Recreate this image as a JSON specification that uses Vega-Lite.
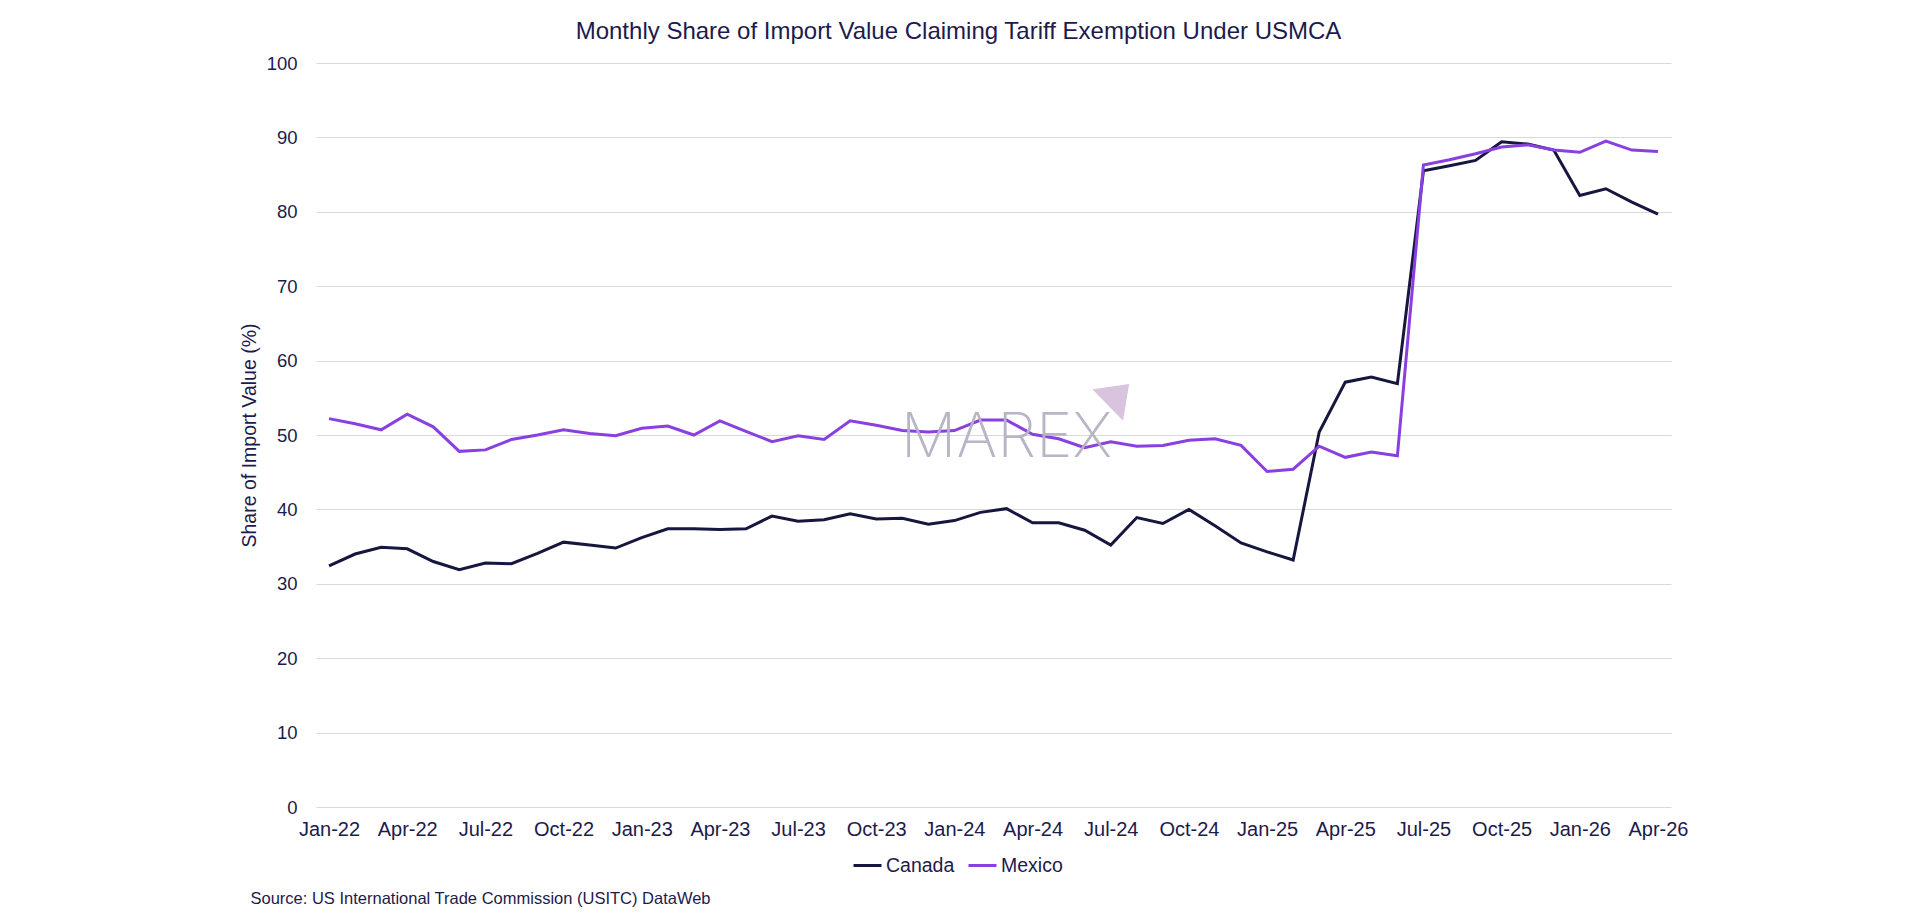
{
  "$schema": "https://vega.github.io/schema/vega-lite/v6.json",
  "autosize": {"type": "none"},
  "padding": {"left": 316, "top": 63, "right": 247, "bottom": 117},
  "width": 1355,
  "height": 744,
  "background": "white",
  "config": {
    "font": "Liberation Sans",
    "view": {"stroke": null},
    "text": {"font": "Liberation Sans"}
  },
  "title": {
    "text": "Monthly Share of Import Value Claiming Tariff Exemption Under USMCA",
    "anchor": "middle",
    "frame": "group",
    "dx": -35,
    "offset": -8.6,
    "baseline": "alphabetic",
    "fontSize": 24,
    "fontWeight": "normal",
    "color": "#1d1b4c"
  },
  "datasets": {
    "share": [
      {"m": "Jan-22", "country": "Canada", "v": 32.4},
      {"m": "Feb-22", "country": "Canada", "v": 34.0},
      {"m": "Mar-22", "country": "Canada", "v": 34.9},
      {"m": "Apr-22", "country": "Canada", "v": 34.7},
      {"m": "May-22", "country": "Canada", "v": 33.0},
      {"m": "Jun-22", "country": "Canada", "v": 31.9},
      {"m": "Jul-22", "country": "Canada", "v": 32.8},
      {"m": "Aug-22", "country": "Canada", "v": 32.7},
      {"m": "Sep-22", "country": "Canada", "v": 34.1},
      {"m": "Oct-22", "country": "Canada", "v": 35.6},
      {"m": "Nov-22", "country": "Canada", "v": 35.2},
      {"m": "Dec-22", "country": "Canada", "v": 34.8},
      {"m": "Jan-23", "country": "Canada", "v": 36.2},
      {"m": "Feb-23", "country": "Canada", "v": 37.4},
      {"m": "Mar-23", "country": "Canada", "v": 37.4},
      {"m": "Apr-23", "country": "Canada", "v": 37.3},
      {"m": "May-23", "country": "Canada", "v": 37.4},
      {"m": "Jun-23", "country": "Canada", "v": 39.1},
      {"m": "Jul-23", "country": "Canada", "v": 38.4},
      {"m": "Aug-23", "country": "Canada", "v": 38.6},
      {"m": "Sep-23", "country": "Canada", "v": 39.4},
      {"m": "Oct-23", "country": "Canada", "v": 38.7},
      {"m": "Nov-23", "country": "Canada", "v": 38.8},
      {"m": "Dec-23", "country": "Canada", "v": 38.0},
      {"m": "Jan-24", "country": "Canada", "v": 38.5},
      {"m": "Feb-24", "country": "Canada", "v": 39.6},
      {"m": "Mar-24", "country": "Canada", "v": 40.1},
      {"m": "Apr-24", "country": "Canada", "v": 38.2},
      {"m": "May-24", "country": "Canada", "v": 38.2},
      {"m": "Jun-24", "country": "Canada", "v": 37.2},
      {"m": "Jul-24", "country": "Canada", "v": 35.2},
      {"m": "Aug-24", "country": "Canada", "v": 38.9},
      {"m": "Sep-24", "country": "Canada", "v": 38.1},
      {"m": "Oct-24", "country": "Canada", "v": 40.0},
      {"m": "Nov-24", "country": "Canada", "v": 37.8},
      {"m": "Dec-24", "country": "Canada", "v": 35.5},
      {"m": "Jan-25", "country": "Canada", "v": 34.3},
      {"m": "Feb-25", "country": "Canada", "v": 33.2},
      {"m": "Mar-25", "country": "Canada", "v": 50.4},
      {"m": "Apr-25", "country": "Canada", "v": 57.1},
      {"m": "May-25", "country": "Canada", "v": 57.8},
      {"m": "Jun-25", "country": "Canada", "v": 56.9},
      {"m": "Jul-25", "country": "Canada", "v": 85.5},
      {"m": "Aug-25", "country": "Canada", "v": 86.2},
      {"m": "Sep-25", "country": "Canada", "v": 86.9},
      {"m": "Oct-25", "country": "Canada", "v": 89.4},
      {"m": "Nov-25", "country": "Canada", "v": 89.1},
      {"m": "Dec-25", "country": "Canada", "v": 88.3},
      {"m": "Jan-26", "country": "Canada", "v": 82.2},
      {"m": "Feb-26", "country": "Canada", "v": 83.1},
      {"m": "Mar-26", "country": "Canada", "v": 81.3},
      {"m": "Apr-26", "country": "Canada", "v": 79.7},
      {"m": "Jan-22", "country": "Mexico", "v": 52.2},
      {"m": "Feb-22", "country": "Mexico", "v": 51.5},
      {"m": "Mar-22", "country": "Mexico", "v": 50.7},
      {"m": "Apr-22", "country": "Mexico", "v": 52.8},
      {"m": "May-22", "country": "Mexico", "v": 51.1},
      {"m": "Jun-22", "country": "Mexico", "v": 47.8},
      {"m": "Jul-22", "country": "Mexico", "v": 48.0},
      {"m": "Aug-22", "country": "Mexico", "v": 49.4},
      {"m": "Sep-22", "country": "Mexico", "v": 50.0},
      {"m": "Oct-22", "country": "Mexico", "v": 50.7},
      {"m": "Nov-22", "country": "Mexico", "v": 50.2},
      {"m": "Dec-22", "country": "Mexico", "v": 49.9},
      {"m": "Jan-23", "country": "Mexico", "v": 50.9},
      {"m": "Feb-23", "country": "Mexico", "v": 51.2},
      {"m": "Mar-23", "country": "Mexico", "v": 50.0},
      {"m": "Apr-23", "country": "Mexico", "v": 51.9},
      {"m": "May-23", "country": "Mexico", "v": 50.5},
      {"m": "Jun-23", "country": "Mexico", "v": 49.1},
      {"m": "Jul-23", "country": "Mexico", "v": 49.9},
      {"m": "Aug-23", "country": "Mexico", "v": 49.4},
      {"m": "Sep-23", "country": "Mexico", "v": 51.9},
      {"m": "Oct-23", "country": "Mexico", "v": 51.3},
      {"m": "Nov-23", "country": "Mexico", "v": 50.6},
      {"m": "Dec-23", "country": "Mexico", "v": 50.4},
      {"m": "Jan-24", "country": "Mexico", "v": 50.6},
      {"m": "Feb-24", "country": "Mexico", "v": 52.0},
      {"m": "Mar-24", "country": "Mexico", "v": 52.0},
      {"m": "Apr-24", "country": "Mexico", "v": 50.1},
      {"m": "May-24", "country": "Mexico", "v": 49.5},
      {"m": "Jun-24", "country": "Mexico", "v": 48.3},
      {"m": "Jul-24", "country": "Mexico", "v": 49.1},
      {"m": "Aug-24", "country": "Mexico", "v": 48.5},
      {"m": "Sep-24", "country": "Mexico", "v": 48.6},
      {"m": "Oct-24", "country": "Mexico", "v": 49.3},
      {"m": "Nov-24", "country": "Mexico", "v": 49.5},
      {"m": "Dec-24", "country": "Mexico", "v": 48.6},
      {"m": "Jan-25", "country": "Mexico", "v": 45.1},
      {"m": "Feb-25", "country": "Mexico", "v": 45.4},
      {"m": "Mar-25", "country": "Mexico", "v": 48.5},
      {"m": "Apr-25", "country": "Mexico", "v": 47.0},
      {"m": "May-25", "country": "Mexico", "v": 47.7},
      {"m": "Jun-25", "country": "Mexico", "v": 47.2},
      {"m": "Jul-25", "country": "Mexico", "v": 86.3},
      {"m": "Aug-25", "country": "Mexico", "v": 87.0},
      {"m": "Sep-25", "country": "Mexico", "v": 87.8},
      {"m": "Oct-25", "country": "Mexico", "v": 88.7},
      {"m": "Nov-25", "country": "Mexico", "v": 89.0},
      {"m": "Dec-25", "country": "Mexico", "v": 88.3},
      {"m": "Jan-26", "country": "Mexico", "v": 88.0},
      {"m": "Feb-26", "country": "Mexico", "v": 89.5},
      {"m": "Mar-26", "country": "Mexico", "v": 88.3},
      {"m": "Apr-26", "country": "Mexico", "v": 88.1}
    ],
    "logo": [{"name": "MAREX"}]
  },
  "layer": [
    {
      "data": {"name": "share"},
      "mark": {"type": "line", "strokeWidth": 3, "strokeJoin": "miter", "interpolate": "linear"},
      "encoding": {
        "x": {
          "field": "m",
          "type": "ordinal",
          "scale": {
            "type": "point",
            "padding": 0.5,
            "domain": ["Jan-22","Feb-22","Mar-22","Apr-22","May-22","Jun-22","Jul-22","Aug-22","Sep-22","Oct-22","Nov-22","Dec-22",
                       "Jan-23","Feb-23","Mar-23","Apr-23","May-23","Jun-23","Jul-23","Aug-23","Sep-23","Oct-23","Nov-23","Dec-23",
                       "Jan-24","Feb-24","Mar-24","Apr-24","May-24","Jun-24","Jul-24","Aug-24","Sep-24","Oct-24","Nov-24","Dec-24",
                       "Jan-25","Feb-25","Mar-25","Apr-25","May-25","Jun-25","Jul-25","Aug-25","Sep-25","Oct-25","Nov-25","Dec-25",
                       "Jan-26","Feb-26","Mar-26","Apr-26"]
          },
          "axis": {
            "values": ["Jan-22","Apr-22","Jul-22","Oct-22","Jan-23","Apr-23","Jul-23","Oct-23","Jan-24","Apr-24","Jul-24","Oct-24","Jan-25","Apr-25","Jul-25","Oct-25","Jan-26","Apr-26"],
            "labelAngle": 0,
            "labelFontSize": 20,
            "labelColor": "#1d1b4c",
            "labelPadding": 12.5,
            "ticks": false,
            "tickSize": 0,
            "domain": false,
            "grid": false,
            "title": "Source: US International Trade Commission (USITC) DataWeb",
            "titleFontSize": 16.5,
            "titleFontWeight": "normal",
            "titleColor": "#1d1b4c",
            "titleAnchor": null,
            "titleAlign": "left",
            "titleBaseline": "alphabetic",
            "titleX": -66,
            "titleY": 96
          }
        },
        "y": {
          "field": "v",
          "type": "quantitative",
          "scale": {"domain": [0, 100], "nice": false, "zero": true},
          "axis": {
            "values": [0, 10, 20, 30, 40, 50, 60, 70, 80, 90, 100],
            "labelFontSize": 18.5,
            "labelColor": "#1d1b4c",
            "labelPadding": 19,
            "ticks": false,
            "tickSize": 0,
            "domain": false,
            "grid": true,
            "gridColor": "#d9d9d9",
            "gridWidth": 1,
            "title": "Share of Import Value (%)",
            "titleFontSize": 19.5,
            "titleFontWeight": "normal",
            "titleColor": "#1d1b4c",
            "titlePadding": 7
          }
        },
        "color": {
          "field": "country",
          "type": "nominal",
          "scale": {"domain": ["Canada", "Mexico"], "range": ["#16163f", "#8a3fe0"]},
          "legend": {
            "title": null,
            "orient": "none",
            "direction": "horizontal",
            "legendX": 536,
            "legendY": 787,
            "padding": 0,
            "symbolType": "stroke",
            "symbolSize": 784,
            "symbolStrokeWidth": 3,
            "labelFontSize": 19.5,
            "labelColor": "#1d1b4c",
            "labelOffset": 3,
            "columnPadding": 7
          }
        }
      }
    },
    {
      "data": {"name": "logo"},
      "mark": {
        "type": "text",
        "font": "Inter",
        "fontWeight": 200,
        "fontSize": 62,
        "align": "center",
        "baseline": "alphabetic",
        "color": "#b5b2c3",
        "opacity": 0.95
      },
      "encoding": {
        "x": {"datum": "Mar-24", "type": "ordinal"},
        "y": {"datum": 47.0, "type": "quantitative"},
        "text": {"field": "name"}
      }
    },
    {
      "data": {"name": "logo"},
      "mark": {
        "type": "point",
        "shape": "M -1 -0.71 L 1 -1 L 0.67 1 Z",
        "filled": true,
        "size": 1350,
        "color": "#d8c4df",
        "opacity": 1
      },
      "encoding": {
        "x": {"datum": "Jul-24", "type": "ordinal"},
        "y": {"datum": 54.4, "type": "quantitative"}
      }
    }
  ]
}
